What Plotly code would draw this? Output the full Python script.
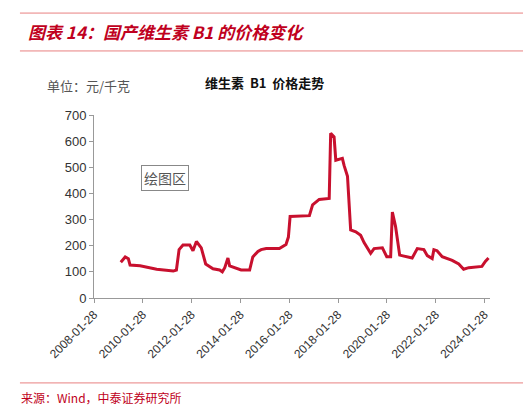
import plotly.graph_objects as go
import pandas as pd

# decimal years
years = [2009.17,2009.35,2009.48,2009.55,2009.96,2010.64,2011.32,2011.45,2011.56,2011.72,2012.0,2012.13,2012.27,2012.47,2012.65,2012.95,2013.22,2013.33,2013.43,2013.56,2013.63,2013.97,2014.1,2014.45,2014.58,2014.79,2014.92,2015.13,2015.67,2015.94,2016.04,2016.11,2016.9,2017.03,2017.3,2017.71,2017.77,2017.91,2017.98,2018.25,2018.32,2018.46,2018.59,2018.8,2019.0,2019.14,2019.41,2019.55,2019.89,2020.07,2020.23,2020.3,2020.43,2020.6,2021.11,2021.32,2021.59,2021.73,2021.93,2022.0,2022.13,2022.34,2022.75,2023.02,2023.22,2023.43,2023.97,2024.11,2024.24]
prices = [137,157,150,126,123,110,103,107,185,203,203,181,216,192,130,112,107,100,116,153,123,112,107,107,157,178,185,189,189,205,233,312,315,356,377,381,630,616,527,534,507,466,260,253,240,212,171,189,192,158,158,329,274,164,153,189,185,162,151,185,181,158,144,130,110,116,121,140,153]
tick_labels = ["2008-01-28","2010-01-28","2012-01-28","2014-01-28","2016-01-28","2018-01-28","2020-01-28","2022-01-28","2024-01-28"]

def to_date(y):
    yr = int(y)
    return pd.Timestamp(yr, 1, 1) + pd.Timedelta(days=(y - yr) * 365.25)

dates = [to_date(y) for y in years]
RED = "#c00020"
font = "Noto Sans CJK SC"

fig = go.Figure(go.Scatter(x=dates, y=prices, mode="lines",
                           line=dict(color="#c8102e", width=3)))
fig.update_layout(
    width=531, height=405, margin=dict(l=86, r=49, t=107, b=115),
    paper_bgcolor="white", plot_bgcolor="white", showlegend=False,
    font=dict(family=font, size=12, color="#333"),
    xaxis=dict(range=["2008-01-28", "2024-04-20"], tickvals=tick_labels, ticktext=tick_labels,
               tickangle=-45, showgrid=False, showline=True, linecolor="#999",
               ticks="outside", tickcolor="#999", ticklen=4, tickfont=dict(size=12, family="Liberation Sans")),
    yaxis=dict(range=[0, 700], dtick=100, showgrid=False, showline=True, linecolor="#999",
               ticks="outside", tickcolor="#999", ticklen=4, tickfont=dict(size=13, family="Liberation Sans")),
    shapes=[
        dict(type="line", xref="paper", yref="paper", x0=-0.187, x1=1.109, y0=1.557, y1=1.557, line=dict(color="#e88080", width=1)),
        dict(type="line", xref="paper", yref="paper", x0=-0.187, x1=1.109, y0=1.35, y1=1.35, line=dict(color="#e88080", width=1)),
        dict(type="line", xref="paper", yref="paper", x0=-0.187, x1=1.109, y0=-0.464, y1=-0.464, line=dict(color="#e88080", width=1)),
    ],
    annotations=[
        dict(text="<b><i>图表 14：国产维生素 B1 的价格变化</i></b>", xref="paper", yref="paper",
             x=-0.172, y=1.454, xanchor="left", yanchor="middle", showarrow=False,
             font=dict(size=17, color=RED, family=font)),
        dict(text="<b>维生素  B1  价格走势</b>", xref="paper", yref="paper", x=0.43, y=1.177,
             xanchor="center", yanchor="middle", showarrow=False, font=dict(size=13, color="#111", family=font)),
        dict(text="单位：元/千克", xref="paper", yref="paper", x=-0.125, y=1.16, xanchor="left",
             yanchor="middle", showarrow=False, font=dict(size=13, color="#555", family=font)),
        dict(text="绘图区", xref="paper", yref="paper", x=0.18, y=0.656, xanchor="center", yanchor="middle",
             showarrow=False, font=dict(size=14, color="#555", family=font), bordercolor="#888",
             borderwidth=1, bgcolor="white", borderpad=2),
        dict(text="来源：Wind，中泰证券研究所", xref="paper", yref="paper", x=-0.19, y=-0.546,
             xanchor="left", yanchor="middle", showarrow=False, font=dict(size=12, color=RED, family=font)),
    ],
)
fig.write_html("out.html")
